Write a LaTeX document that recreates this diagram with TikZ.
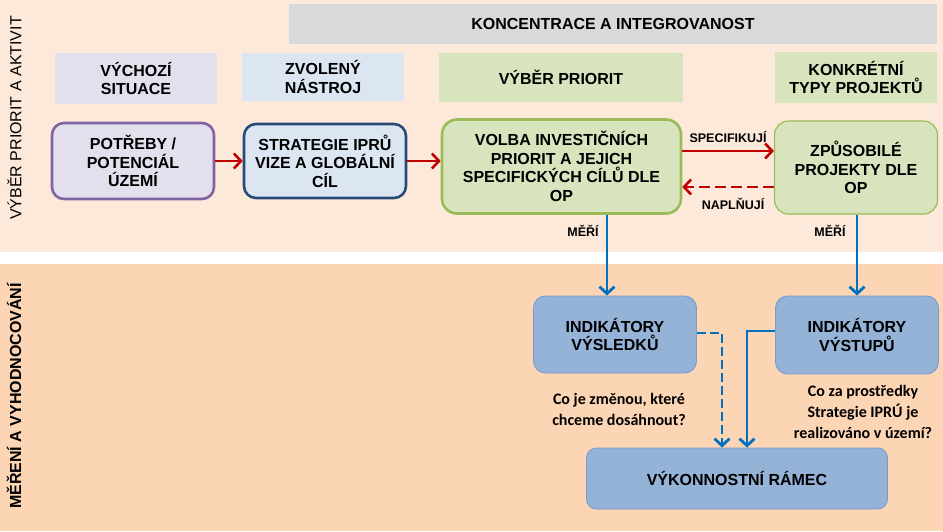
\documentclass[tikz,border=0pt]{standalone}
\usepackage{fontspec}
\setmainfont{Liberation Sans}
\newfontfamily\notefont{Carlito}
\usetikzlibrary{calc, arrows.meta}

\definecolor{bgtop}{HTML}{FDE9D9}
\definecolor{bgbottom}{HTML}{FCD5B5}
\definecolor{bannergray}{HTML}{D9D9D9}
\definecolor{lilac}{HTML}{E4DFEC}
\definecolor{lilacline}{HTML}{8064A2}
\definecolor{paleblue}{HTML}{DCE6F2}
\definecolor{navyline}{HTML}{264B78}
\definecolor{palegreen}{HTML}{D7E4BD}
\definecolor{greenline}{HTML}{9BBB59}
\definecolor{indfill}{HTML}{95B3D7}
\definecolor{indline}{HTML}{7A9CCB}
\definecolor{arrowred}{HTML}{C00000}
\definecolor{arrowblue}{HTML}{0070C0}

\begin{document}
\begin{tikzpicture}[x=1pt, y=-1pt,
	every node/.style={font=\bfseries\fontsize{16}{18.4}\selectfont, align=center, inner sep=0pt},
	header/.style={fill=#1},
	box/.style={rounded corners=12pt, line width=2.6pt},
	indbox/.style={fill=indfill, draw=indline, line width=0.9pt, rounded corners=12pt},
	small/.style={font=\bfseries\fontsize{12.5}{14}\selectfont},
	note/.style={font=\notefont\bfseries\fontsize{16}{21}\selectfont},
	side/.style={rotate=90, font=\fontsize{16}{18}\selectfont},
	redarrow/.style={draw=arrowred, line width=2.6pt, -{Straight Barb[length=7pt, width=15pt]}},
	bluearrow/.style={draw=arrowblue, line width=2.8pt, -{Straight Barb[length=7pt, width=15pt]}}]
		\useasboundingbox (0,0) rectangle (943,531);
		% backgrounds
		\fill[bgtop] (0,0) rectangle (943,252);
		\fill[white] (0,252) rectangle (943,264);
		\fill[bgbottom] (0,264) rectangle (943,531);
		
		\node[side] (sidetop) at (14.5,118) {VÝBĚR PRIORIT A AKTIVIT};
		\node[side, font=\bfseries\fontsize{16}{18}\selectfont] (sidebottom) at (14,396) {MĚŘENÍ A VYHODNOCOVÁNÍ};
		
		% header row
		\node[header=bannergray, minimum width=648pt, minimum height=40pt] (banner) at (613,24) {KONCENTRACE A INTEGROVANOST};
		\node[header=lilac, minimum width=162pt, minimum height=51pt] (hsituace) at (136,78.5) {VÝCHOZÍ\\SITUACE};
		\node[header=paleblue, minimum width=162pt, minimum height=48pt] (hnastroj) at (323,77) {ZVOLENÝ\\NÁSTROJ};
		\node[header=palegreen, minimum width=244pt, minimum height=49pt] (hpriorit) at (561,77.5) {VÝBĚR PRIORIT};
		\node[header=palegreen, minimum width=162pt, minimum height=51pt] (htypy) at (856,77.5) {KONKRÉTNÍ\\TYPY PROJEKTŮ};
		
		% main boxes
		\node[box, draw=lilacline, fill=lilac, minimum width=162pt, minimum height=76pt] (potreby) at (133,161) {POTŘEBY /\\POTENCIÁL\\ÚZEMÍ};
		\node[box, draw=navyline, fill=paleblue, minimum width=162pt, minimum height=74pt] (strategie) at (325,161) {STRATEGIE IPRŮ\\VIZE A GLOBÁLNÍ\\CÍL};
		\node[box, draw=greenline, fill=palegreen, rounded corners=15pt, minimum width=239pt, minimum height=94pt] (volba) at (561.5,166.5) {VOLBA INVESTIČNÍCH\\PRIORIT A JEJICH\\SPECIFICKÝCH CÍLŮ DLE\\OP};
		\node[box, draw=greenline, fill=palegreen, line width=1.2pt, rounded corners=14pt, minimum width=163pt, minimum height=93pt] (zpusobile) at (856,167.5) {ZPŮSOBILÉ\\PROJEKTY DLE\\OP};
		
		% indicators
		\node[indbox, minimum width=163pt, minimum height=77pt] (vysledky) at (615,334.5) {INDIKÁTORY\\VÝSLEDKŮ};
		\node[indbox, minimum width=163pt, minimum height=78pt] (vystupy) at (857,335) {INDIKÁTORY\\VÝSTUPŮ};
		\node[indbox, rounded corners=10pt, minimum width=301pt, minimum height=61pt] (ramec) at (737,478.5) {VÝKONNOSTNÍ RÁMEC};
		
		% red arrows
		\draw[redarrow] (potreby) -- (strategie);
		\draw[redarrow] (strategie.east) -- (strategie.east -| volba.west);
		\draw[redarrow] ([yshift=15.5pt]volba.east) -- ([yshift=15.5pt]volba.east -| zpusobile.west)
			node[small, midway, above=7pt] (specifikuji) {SPECIFIKUJÍ};
		\draw[redarrow, dash pattern=on 11pt off 5pt] ([yshift=-19.5pt]zpusobile.west) -- ([yshift=-19.5pt]zpusobile.west -| volba.east)
			node[small, midway, below=10pt, xshift=5pt] (naplnuji) {NAPLŇUJÍ};
		
		% blue arrows
		\draw[bluearrow] ([xshift=45.5pt]volba.south) -- ([xshift=45.5pt]volba.south |- vysledky.north);
		\draw[bluearrow] ([xshift=1pt]zpusobile.south) -- ([xshift=1pt]zpusobile.south |- vystupy.north);
		\node[small] (meri1) at (583,231) {MĚŘÍ};
		\node[small] (meri2) at (830,231) {MĚŘÍ};
		\draw[bluearrow, dash pattern=on 9pt off 4pt] ([yshift=1.5pt]vysledky.east) -| ([xshift=-15pt]ramec.north);
		\draw[bluearrow] ([yshift=4pt]vystupy.west) -| ([xshift=10pt]ramec.north);
		
		% questions
		\node[note] (otazka1) at (619,409) {Co je změnou, které\\chceme dosáhnout?};
		\node[note] (otazka2) at (863,411.5) {Co za prostředky\\Strategie IPRÚ je\\realizováno v území?};
\end{tikzpicture}
\end{document}
